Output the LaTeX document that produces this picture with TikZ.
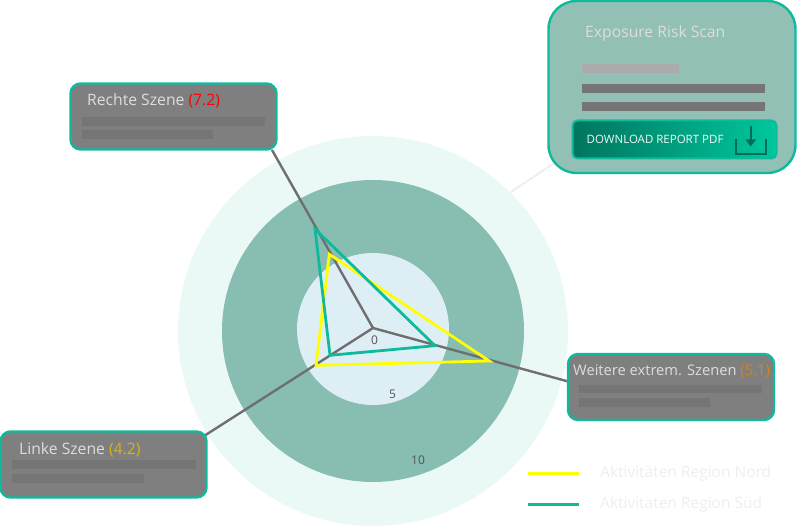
\documentclass[tikz,border=0pt]{standalone}
\usepackage{fontspec}
\setmainfont{Open Sans}
\definecolor{ringA}{HTML}{EAF9F6}
\definecolor{ringB}{HTML}{88BDB1}
\definecolor{ringC}{HTML}{DEEEF5}
\definecolor{teal}{HTML}{0DBB9C}
\definecolor{ylw}{HTML}{FFFF00}
\definecolor{spoke}{HTML}{6F6F6F}
\definecolor{panelfill}{HTML}{7F7F7F}
\definecolor{panelbar}{HTML}{757575}
\definecolor{cardfill}{HTML}{93C0B4}
\definecolor{titletxt}{HTML}{DDDDDD}
\definecolor{legendtxt}{HTML}{EEEEEE}
\definecolor{numtxt}{HTML}{555555}
\definecolor{btnL}{HTML}{00755F}
\definecolor{btnR}{HTML}{00C89E}
\definecolor{icon}{HTML}{006B58}
\tikzset{
  panel/.style={draw=teal,line width=2.4,fill=panelfill,rounded corners=10,inner sep=0,minimum width=206,minimum height=66},
  panelbarline/.style={fill=panelbar},
  title/.style={anchor=base west,inner sep=0,text=titletxt,font=\fontsize{15.7}{18}\selectfont},
  legend/.style={anchor=base west,inner sep=0,text=legendtxt,font=\fontsize{15.5}{18}\selectfont},
  num/.style={inner sep=0,text=numtxt,font=\fontsize{12}{14}\selectfont},
  spokeline/.style={draw=spoke,line width=2.4},
  polyN/.style={draw=ylw,line width=2.8,line join=miter},
  polyS/.style={draw=teal,line width=2.8,line join=miter},
}
\begin{document}
\begin{tikzpicture}[x=1pt,y=-1pt]
\useasboundingbox (0,0) rectangle (797,526);
% rings
\fill[ringA] (373,331) circle[radius=195];
\fill[ringB] (373,331) circle[radius=151];
\fill[ringC] (373,329) circle[radius=76];
% anchors
\coordinate (c) at (373,328);
\coordinate (spR) at (272,150);
\coordinate (spW) at (570,382);
\coordinate (spL) at (204,436);
\coordinate (fadeA) at (511,192);
\coordinate (fadeB) at (556,162);
\coordinate (nT) at (329.3,254.3);
\coordinate (nR) at (489.3,361);
\coordinate (nL) at (316,365.3);
\coordinate (sT) at (315,229);
\coordinate (sR) at (435,345.7);
\coordinate (sL) at (330,355.3);
% spokes
\draw[spokeline] (c) -- (spR);
\draw[spokeline] (c) -- (spW);
\draw[spokeline] (c) -- (spL);
\draw[draw=ringA!70!gray!35,line width=2] (fadeA) -- (fadeB);
% polygons
\draw[polyN] (nT) -- (nR) -- (nL) -- cycle;
\draw[polyS] (sT) -- (sR) -- (sL) -- cycle;
% numbers
\node[num] (n0) at (374.5,340.5) {0};
\node[num] (n5) at (392.5,394) {5};
\node[num] (n10) at (418,460) {10};
% Rechte
\node[panel] (rechte) at (173.5,116.5) {};
\fill[panelbarline] (82,117) rectangle (265,126);
\fill[panelbarline] (82,130) rectangle (213,139);
\node[title] (rechteT) at (87,106) {Rechte Szene \textcolor[HTML]{FF0000}{(7.2)}};
% Linke
\node[panel] (linke) at (103.5,464.5) {};
\fill[panelbarline] (12,460) rectangle (196,469);
\fill[panelbarline] (12,474) rectangle (144,482.5);
\node[title] (linkeT) at (19,454.3) {Linke Szene \textcolor[HTML]{D9B020}{(4.2)}};
% Weitere
\node[panel] (weitere) at (671,387) {};
\fill[panelbarline] (579,385) rectangle (762,393);
\fill[panelbarline] (579,398) rectangle (710,407);
\node[title,font=\fontsize{14.7}{18}\selectfont] (weitereT) at (573,375) {Weitere extrem. Szenen \textcolor[HTML]{D9821E}{(5.1)}};
% Card
\node[draw=teal,line width=2.4,fill=cardfill,rounded corners=28,inner sep=0,minimum width=247,minimum height=172] (card) at (672,87) {};
\fill[fill=black!33] (582,64) rectangle (679,73);
\fill[fill=black!54] (582,84) rectangle (765,93);
\fill[fill=black!54] (582,102) rectangle (765,111);
\node[title] (cardT) at (585,37.7) {Exposure Risk Scan};
\node[draw=teal,line width=2,left color=btnL,right color=btnR,rounded corners=5,inner sep=0,minimum width=204,minimum height=38] (btn) at (674.5,139.5) {};
\node[anchor=base west,inner sep=0,text=white!92!teal,font=\fontsize{11.5}{13}\selectfont] (btnT) at (586.5,144) {DOWNLOAD REPORT PDF};
\draw[icon,line width=1.8] (736,139) -- (736,154) -- (766,154) -- (766,139);
\draw[icon,line width=1.6] (750.7,126) -- (750.7,141);
\fill[icon] (745.5,139.5) -- (756,139.5) -- (750.7,146.5) -- cycle;
% Legend
\coordinate (lgNa) at (528,473);
\coordinate (lgNb) at (579,473);
\coordinate (lgSa) at (528,504);
\coordinate (lgSb) at (579,504);
\draw[ylw,line width=3] (lgNa) -- (lgNb);
\draw[teal,line width=3] (lgSa) -- (lgSb);
\node[legend] (lgN) at (600,477) {Aktivitäten Region Nord};
\node[legend] (lgS) at (600,508) {Aktivitäten Region Süd};
\end{tikzpicture}
\end{document}
